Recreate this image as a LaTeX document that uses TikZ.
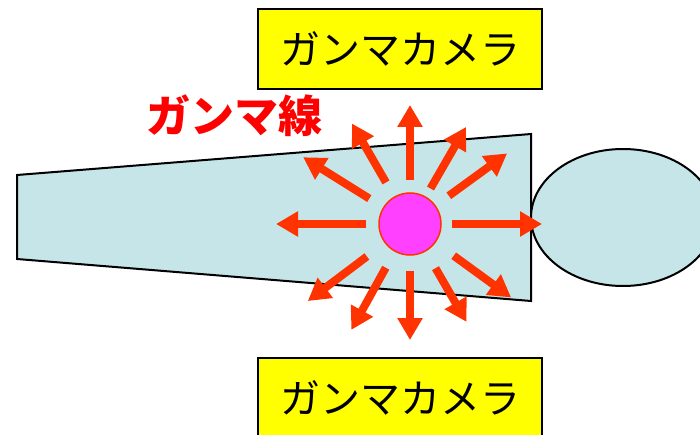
\documentclass[tikz,border=0pt]{standalone}
\usepackage{fontspec}
\newfontfamily\jp{Noto Sans CJK JP}
\usetikzlibrary{arrows.meta}
\definecolor{bodyblue}{HTML}{C6E5E8}
\definecolor{camyellow}{HTML}{FFFF00}
\definecolor{rayred}{HTML}{FF3300}
\definecolor{srcpink}{HTML}{FF40FF}
\tikzset{
  camera/.style={draw=black, line width=2pt, fill=camyellow, minimum width=284pt,
    minimum height=80pt, inner sep=0pt, font=\jp\fontsize{40}{40}\selectfont},
  body/.style={draw=black, line width=2pt, fill=bodyblue, line join=miter},
  ray/.style={draw=rayred, line width=8pt, -{Triangle[length=22pt,width=24pt]}},
  source/.style={circle, draw=rayred, line width=1.5pt, fill=srcpink, minimum size=62pt, inner sep=0pt},
  raylabel/.style={text=red, font=\jp\bfseries\fontsize{44}{44}\selectfont, inner sep=0pt}
}
\begin{document}
\begin{tikzpicture}[x=1pt,y=1pt]
  \useasboundingbox (0,0) rectangle (700,434);
  \clip (0,0) rectangle (700,434);
  % patient body: torso as a tapered slab, head as an ellipse
  \draw[body] (17,259) -- (531,300) -- (531,133) -- (17,175) -- cycle;
  \draw[body] (623,216.5) ellipse [x radius=92, y radius=68.5];
  % detector heads above and below
  \node[camera] (camtop) at (400,385) {ガンマカメラ};
  \node[camera] (cambot) at (400,36) {ガンマカメラ};
  % emitting source
  \node[source] (src) at (410,210) {};
  \foreach \a/\ra/\rb in {0/42/132, 36/48/120, 60/41/112, 90/44/119, 120/48/116, 148/48/126,
                          180/44/134, 217/54/128, 241/50/121, 270/47/116, 300/51/113, 324/54/125} {
    \draw[ray] ([shift={(\a:\ra)}]src.center) -- ([shift={(\a:\rb)}]src.center);
  }
  \node[raylabel] (label) at (234,318) {ガンマ線};
\end{tikzpicture}
\end{document}
